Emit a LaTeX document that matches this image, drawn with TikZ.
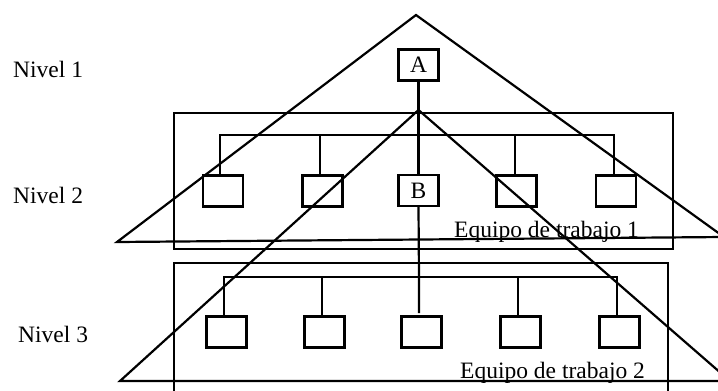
\documentclass[tikz,border=0pt]{standalone}
\usepackage{fontspec}
\setmainfont{Liberation Serif}
\begin{document}
\begin{tikzpicture}[x=1pt,y=-1pt,
  every node/.style={font=\fontsize{23.5}{28}\selectfont},
  ln/.style={line width=2.2pt, line join=miter},
  bx/.style={draw, line width=2.2pt, minimum width=40pt, minimum height=31pt, inner sep=0pt},
  lbl/.style={anchor=base west, inner sep=0pt}]
\useasboundingbox (0,0) rectangle (718,391);
\clip (0,0) rectangle (718,391);
% level labels
\node[lbl] (n1) at (13,77) {Nivel 1};
\node[lbl] (n2) at (13,203) {Nivel 2};
\node[lbl] (n3) at (18,342) {Nivel 3};
% team rectangles
\draw[ln] (174,113) rectangle (673,249);
\draw[ln] (174,263) rectangle (668,400);
% boxes
\node[bx] (A) at (418.5,65) {A};
\node[bx] (B) at (418.5,190.5) {B};
\node[bx] (b1) at (223,191) {};
\node[bx] (b2) at (322.5,191) {};
\node[bx] (b4) at (516.5,191) {};
\node[bx] (b5) at (616,191) {};
\node[bx] (c1) at (226.5,332) {};
\node[bx] (c2) at (324.5,332) {};
\node[bx] (c3) at (421.5,332) {};
\node[bx] (c4) at (520.5,332) {};
\node[bx] (c5) at (619.5,332) {};
% coordinates
\coordinate (conv) at (418.5,110);
\coordinate (bus1l) at (220,135);
\coordinate (bus1r) at (614,135);
\coordinate (bus2l) at (224,277);
\coordinate (bus2r) at (617,277);
\coordinate (d2) at (320,135);
\coordinate (d4) at (515,135);
\coordinate (e2) at (322,277);
\coordinate (e3) at (419,277);
\coordinate (e4) at (518,277);
% center line
\draw[ln] (A.south) -- (B.north);
\draw[ln] (B.south) -- (e3) -- ++(0,36);
% bus 1
\draw[ln] (bus1l |- b1.north) -- (bus1l) -- (bus1r) -- (bus1r |- b5.north);
\draw[ln] (d2) -- (d2 |- b2.north);
\draw[ln] (d4) -- (d4 |- b4.north);
% bus 2
\draw[ln] (bus2l |- c1.north) -- (bus2l) -- (bus2r) -- (bus2r |- c5.north);
\draw[ln] (e2) -- (e2 |- c2.north);
\draw[ln] (e4) -- (e4 |- c4.north);
% team labels
\node[lbl] (t1) at (454,237) {Equipo de trabajo 1};
\node[lbl] (t2) at (460,378) {Equipo de trabajo 2};
% triangles
\coordinate (apex1) at (416,15);
\coordinate (l1) at (117,242);
\coordinate (r1) at (724,237);
\coordinate (l2) at (120,381);
\coordinate (r2) at (730,381);
\draw[ln] (apex1) -- (l1) -- (r1) -- cycle;
\draw[ln] (conv) -- (l2) -- (r2) -- cycle;
\end{tikzpicture}
\end{document}
